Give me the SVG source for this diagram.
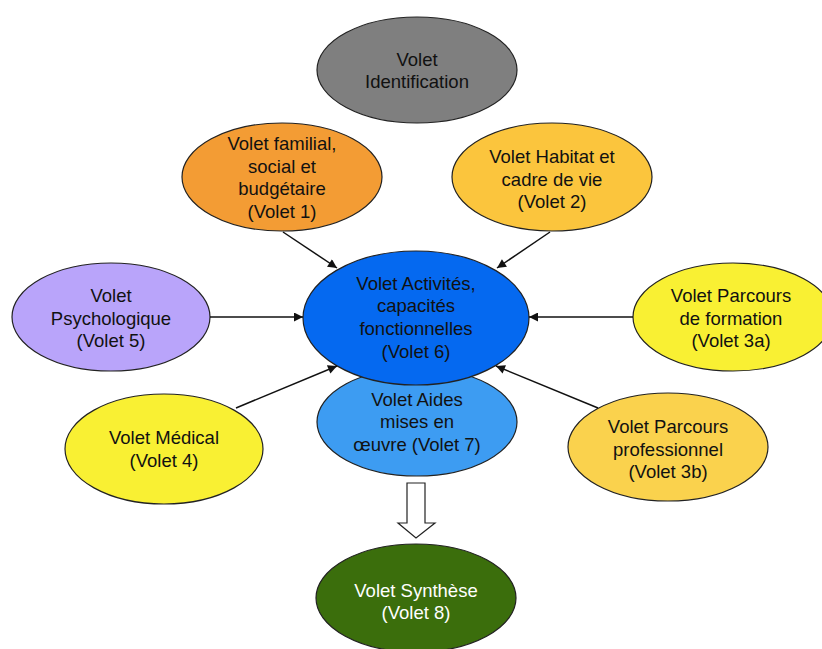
<svg xmlns="http://www.w3.org/2000/svg" width="822" height="649" viewBox="0 0 822 649">
<style>
.n ellipse{stroke:#222;stroke-width:1.2}
text{font-family:"Liberation Sans",Arial,Helvetica,sans-serif;font-size:18.5px;fill:#111;text-anchor:middle}
.w text{fill:#fff}
.c line{stroke:#111;stroke-width:1.5;marker-end:url(#ah)}
</style>
<defs>
<marker id="ah" viewBox="0 0 10 10" refX="10" refY="5" markerWidth="10" markerHeight="9" orient="auto" markerUnits="userSpaceOnUse">
<path d="M0,0 L10,5 L0,10 z" fill="#111"/>
</marker>
</defs>
<rect width="822" height="649" fill="#fff"/>
<g id="n-identification" class="n">
<ellipse cx="417" cy="70" rx="100" ry="53" fill="#7f7f7f"/>
<text x="417" y="66">Volet</text>
<text x="417" y="88">Identification</text>
</g>
<g id="n-familial" class="n">
<ellipse cx="282" cy="177" rx="100" ry="54" fill="#f39c34"/>
<text x="282" y="150">Volet familial,</text>
<text x="282" y="173">social et</text>
<text x="282" y="195">budgétaire</text>
<text x="282" y="218">(Volet 1)</text>
</g>
<g id="n-habitat" class="n">
<ellipse cx="552" cy="177" rx="100" ry="54" fill="#fbc53d"/>
<text x="552" y="163">Volet Habitat et</text>
<text x="552" y="186">cadre de vie</text>
<text x="552" y="208">(Volet 2)</text>
</g>
<g id="n-psycho" class="n">
<ellipse cx="111" cy="317" rx="99" ry="54" fill="#b9a4fa"/>
<text x="111" y="302">Volet</text>
<text x="111" y="325">Psychologique</text>
<text x="111" y="347">(Volet 5)</text>
</g>
<g id="n-formation" class="n">
<ellipse cx="733" cy="317" rx="100" ry="54" fill="#f9f033"/>
<text x="731" y="302">Volet Parcours</text>
<text x="731" y="325">de formation</text>
<text x="731" y="347">(Volet 3a)</text>
</g>
<g id="n-medical" class="n">
<ellipse cx="164" cy="449" rx="99" ry="55" fill="#f9f033"/>
<text x="164" y="444">Volet Médical</text>
<text x="164" y="467">(Volet 4)</text>
</g>
<g id="n-pro" class="n">
<ellipse cx="668" cy="447" rx="100" ry="54" fill="#fad24d"/>
<text x="668" y="433">Volet Parcours</text>
<text x="668" y="456">professionnel</text>
<text x="668" y="478">(Volet 3b)</text>
</g>
<g id="n-aides" class="n">
<ellipse cx="417" cy="422" rx="100" ry="54" fill="#3d9cf2"/>
<text x="417" y="406">Volet Aides</text>
<text x="417" y="428">mises en</text>
<text x="417" y="451">œuvre (Volet 7)</text>
</g>
<g id="n-activites" class="n">
<ellipse cx="416" cy="318" rx="113" ry="67" fill="#0569f0"/>
<text x="416" y="290">Volet Activités,</text>
<text x="416" y="312">capacités</text>
<text x="416" y="335">fonctionnelles</text>
<text x="416" y="358">(Volet 6)</text>
</g>
<g id="n-synthese" class="n w">
<ellipse cx="416" cy="598" rx="100" ry="54" fill="#3b6e0c"/>
<text x="416" y="597">Volet Synthèse</text>
<text x="416" y="619">(Volet 8)</text>
</g>
<g id="connectors" class="c">
<line x1="283" y1="232" x2="337" y2="268"/>
<line x1="550" y1="232" x2="497" y2="268"/>
<line x1="210" y1="317" x2="303" y2="317"/>
<line x1="633" y1="317" x2="529" y2="317"/>
<line x1="236" y1="408" x2="337" y2="366"/>
<line x1="598" y1="408" x2="496" y2="366"/>
<path d="M407,483 H425 V523 H435 L416,538 L398,523 H407 Z" fill="#fff" stroke="#222" stroke-width="1.2"/>
</g>
</svg>
